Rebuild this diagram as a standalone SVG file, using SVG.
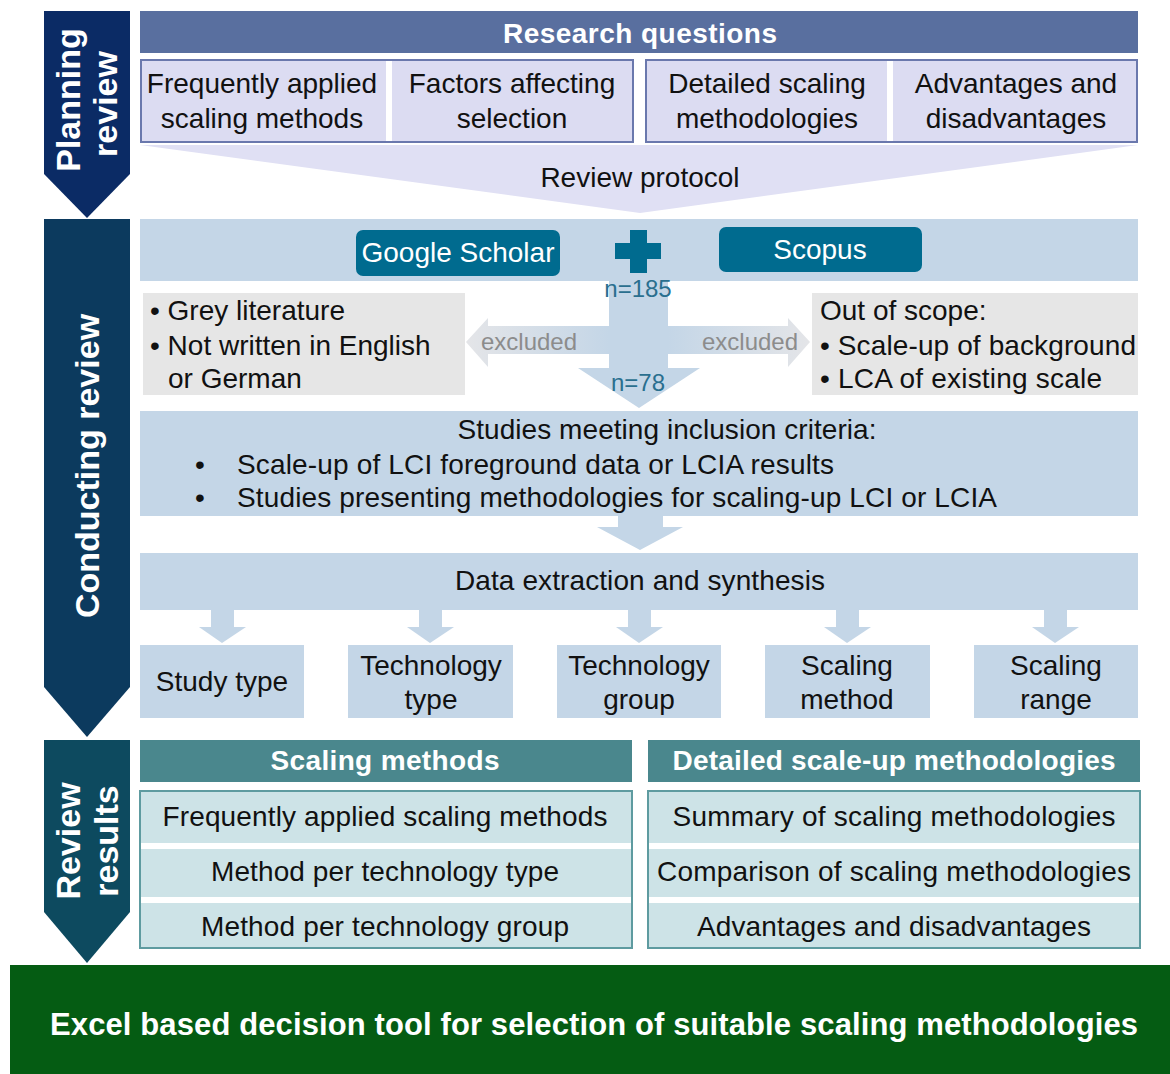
<svg xmlns="http://www.w3.org/2000/svg" width="1170" height="1074" viewBox="0 0 1170 1074">
<defs>
<linearGradient id="exL" x1="0" y1="0" x2="1" y2="0">
<stop offset="0" stop-color="#e4e5e8"/><stop offset="1" stop-color="#c4d6e7"/>
</linearGradient>
<linearGradient id="exR" x1="0" y1="0" x2="1" y2="0">
<stop offset="0" stop-color="#c4d6e7"/><stop offset="1" stop-color="#e4e5e8"/>
</linearGradient>
</defs>
<style>
text{font-family:"Liberation Sans",Arial,sans-serif;}
.t{font-size:28px;fill:#111;}
.c{text-anchor:middle;}
.w{fill:#fff;}
.b{font-weight:bold;}
.lav{fill:#dcdcf2;}
.lb{fill:#c4d6e7;}
.grey{fill:#e6e6e6;}
.btn{fill:#006b8f;}
.hdr{fill:#4a878d;}
.lst{fill:#cde3e7;stroke:#5e9ba0;stroke-width:2;}
.n{font-size:24px;fill:#2a6f8f;}
.ex{font-size:24px;fill:#8c8c8c;}
.chev{font-size:34px;font-weight:bold;fill:#fff;text-anchor:middle;}
</style>
<rect width="1170" height="1074" fill="#fff"/>

<g id="chevron-planning">
<polygon points="44,11 130,11 130,174 87,218 44,174" fill="#0b2b65"/>
<text class="chev" transform="translate(80,100) rotate(-90)">Planning</text>
<text class="chev" transform="translate(117,104) rotate(-90)">review</text>
</g>
<g id="chevron-conducting">
<polygon points="44,219 130,219 130,687 87,737 44,687" fill="#0c3a5e"/>
<text class="chev" transform="translate(99,466) rotate(-90)">Conducting review</text>
</g>
<g id="chevron-results">
<polygon points="44,740 130,740 130,912 87,963 44,912" fill="#0d4a5f"/>
<text class="chev" transform="translate(80,841) rotate(-90)">Review</text>
<text class="chev" transform="translate(118,841) rotate(-90)">results</text>
</g>

<g id="research-questions">
<rect x="140" y="11" width="998" height="42" fill="#596f9f"/>
<text class="t w b c" x="640" y="43" textLength="274">Research questions</text>
</g>
<g id="rq-left">
<rect x="141" y="60" width="492" height="82" class="lav" stroke="#6a78ad" stroke-width="2"/>
<rect x="386" y="61" width="6" height="80" fill="#fff"/>
<text class="t c" x="262" y="93">Frequently applied</text>
<text class="t c" x="262" y="128">scaling methods</text>
<text class="t c" x="512" y="93">Factors affecting</text>
<text class="t c" x="512" y="128">selection</text>
</g>
<g id="rq-right">
<rect x="646" y="60" width="491" height="82" class="lav" stroke="#6a78ad" stroke-width="2"/>
<rect x="887" y="61" width="6" height="80" fill="#fff"/>
<text class="t c" x="767" y="93">Detailed scaling</text>
<text class="t c" x="767" y="128">methodologies</text>
<text class="t c" x="1016" y="93">Advantages and</text>
<text class="t c" x="1016" y="128">disadvantages</text>
</g>
<g id="review-protocol">
<polygon points="140,145 1138,145 640,213" fill="#e0e0f4"/>
<text class="t c" x="640" y="187">Review protocol</text>
</g>

<g id="search">
<rect x="140" y="219" width="998" height="62" class="lb"/>
<rect x="356" y="230" width="204" height="46" rx="7" class="btn"/>
<text class="t w c" x="458" y="262">Google Scholar</text>
<rect x="719" y="227" width="203" height="45" rx="7" class="btn"/>
<text class="t w c" x="820" y="259">Scopus</text>
<rect x="630" y="230" width="17" height="43" class="btn"/>
<rect x="615" y="243" width="46" height="16" class="btn"/>
</g>

<g id="connectors">
<polygon points="609,280 668,280 668,368 700,368 639,408 578,368 609,368" class="lb"/>
<polygon points="609,326 488,326 488,318 466,342 488,367 488,354 609,354" fill="url(#exL)"/>
<polygon points="668,326 788,326 788,318 810,342 788,367 788,354 668,354" fill="url(#exR)"/>
<polygon points="618,516 663,516 663,527 683,527 640,550 597,527 618,527" class="lb"/>
<polygon points="211,610 234,610 234,627 246,627 222,643 199,627 211,627" class="lb"/>
<polygon points="419,610 442,610 442,627 454,627 430,643 407,627 419,627" class="lb"/>
<polygon points="628,610 651,610 651,627 663,627 639,643 616,627 628,627" class="lb"/>
<polygon points="836,610 859,610 859,627 871,627 847,643 824,627 836,627" class="lb"/>
<polygon points="1044,610 1067,610 1067,627 1079,627 1055,643 1032,627 1044,627" class="lb"/>
<text class="n c" x="638" y="297">n=185</text>
<text class="n c" x="638" y="391">n=78</text>
<text class="ex c" x="529" y="350">excluded</text>
<text class="ex c" x="750" y="350">excluded</text>
</g>

<g id="excluded-left">
<rect x="143" y="293" width="322" height="102" class="grey"/>
<text class="t" x="150" y="320">• Grey literature</text>
<text class="t" x="150" y="355">• Not written  in English</text>
<text class="t" x="168" y="388">or German</text>
</g>
<g id="excluded-right">
<rect x="812" y="293" width="326" height="102" class="grey"/>
<text class="t" x="820" y="320">Out of scope:</text>
<text class="t" x="820" y="355" textLength="316">• Scale-up of background</text>
<text class="t" x="820" y="388" textLength="282">• LCA of existing scale</text>
</g>

<g id="inclusion">
<rect x="140" y="411" width="998" height="105" class="lb"/>
<text class="t c" x="667" y="439" textLength="419">Studies meeting inclusion criteria:</text>
<text class="t" x="195" y="474">•</text>
<text class="t" x="237" y="474" textLength="597">Scale-up of LCI foreground data or LCIA results</text>
<text class="t" x="195" y="507">•</text>
<text class="t" x="237" y="507" textLength="760">Studies presenting methodologies for scaling-up LCI or LCIA</text>
</g>

<g id="data-extraction">
<rect x="140" y="553" width="998" height="57" class="lb"/>
<text class="t c" x="640" y="590" textLength="370">Data extraction and synthesis</text>
</g>

<g id="study-type"><rect x="140" y="645" width="164" height="73" class="lb"/><text class="t c" x="222" y="691">Study type</text></g>
<g id="technology-type"><rect x="348" y="645" width="165" height="73" class="lb"/><text class="t c" x="431" y="675">Technology</text><text class="t c" x="431" y="709">type</text></g>
<g id="technology-group"><rect x="557" y="645" width="164" height="73" class="lb"/><text class="t c" x="639" y="675">Technology</text><text class="t c" x="639" y="709">group</text></g>
<g id="scaling-method"><rect x="765" y="645" width="165" height="73" class="lb"/><text class="t c" x="847" y="675">Scaling</text><text class="t c" x="847" y="709">method</text></g>
<g id="scaling-range"><rect x="974" y="645" width="164" height="73" class="lb"/><text class="t c" x="1056" y="675">Scaling</text><text class="t c" x="1056" y="709">range</text></g>

<g id="scaling-methods">
<rect x="140" y="740" width="492" height="42" class="hdr"/>
<text class="t w b c" x="385" y="770" textLength="229">Scaling methods</text>
<rect x="140" y="791" width="492" height="157" class="lst"/>
<rect x="141" y="843" width="490" height="6" fill="#fff"/>
<rect x="141" y="897" width="490" height="6" fill="#fff"/>
<text class="t c" x="385" y="826" textLength="445">Frequently applied scaling methods</text>
<text class="t c" x="385" y="881" textLength="348">Method per technology type</text>
<text class="t c" x="385" y="936" textLength="368">Method per technology group</text>
</g>
<g id="detailed-methodologies">
<rect x="648" y="740" width="492" height="42" class="hdr"/>
<text class="t w b c" x="894" y="770" textLength="443">Detailed scale-up methodologies</text>
<rect x="648" y="791" width="492" height="157" class="lst"/>
<rect x="649" y="843" width="490" height="6" fill="#fff"/>
<rect x="649" y="897" width="490" height="6" fill="#fff"/>
<text class="t c" x="894" y="826" textLength="443">Summary of scaling methodologies</text>
<text class="t c" x="894" y="881" textLength="474">Comparison of scaling methodologies</text>
<text class="t c" x="894" y="936" textLength="394">Advantages and disadvantages</text>
</g>

<g id="decision-tool">
<rect x="10" y="965" width="1160" height="109" fill="#055c13"/>
<text class="w b c" x="594" y="1035" font-size="31" textLength="1088">Excel based decision tool for selection of suitable scaling methodologies</text>
</g>
</svg>
